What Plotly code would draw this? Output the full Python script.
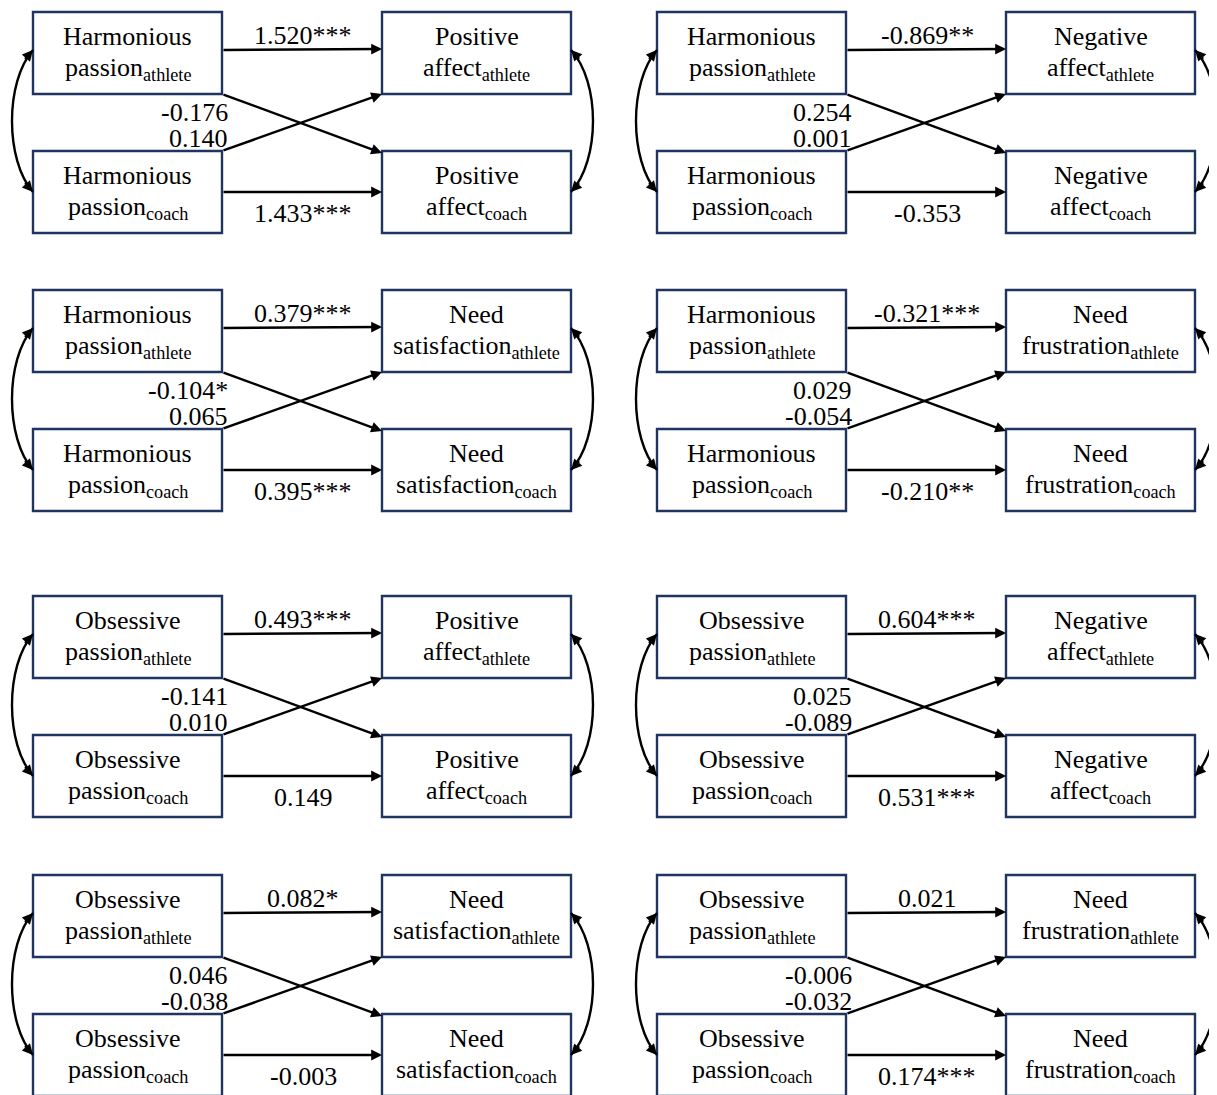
import plotly.graph_objects as go

# ---- data ----
predictors = ["Harmonious", "Harmonious", "Harmonious", "Harmonious",
              "Obsessive", "Obsessive", "Obsessive", "Obsessive"]
outcome_line1 = ["Positive", "Negative", "Need", "Need",
                 "Positive", "Negative", "Need", "Need"]
outcome_line2 = ["affect", "affect", "satisfaction", "frustration",
                 "affect", "affect", "satisfaction", "frustration"]
coef_athlete = ["1.520***", "-0.869**", "0.379***", "-0.321***",
                "0.493***", "0.604***", "0.082*", "0.021"]
coef_coach = ["1.433***", "-0.353", "0.395***", "-0.210**",
              "0.149", "0.531***", "-0.003", "0.174***"]
coef_cross_upper = ["-0.176", "0.254", "-0.104*", "0.029",
                    "-0.141", "0.025", "0.046", "-0.006"]
coef_cross_lower = ["0.140", "0.001", "0.065", "-0.054",
                    "0.010", "-0.089", "-0.038", "-0.032"]

# ---- layout geometry ----
col_x0 = [33, 657]
row_y0 = [12, 290, 596, 875]
BW, BH = 189, 82
DX = 349      # offset of outcome boxes
DY = 139      # offset of coach boxes
FONT = "Liberation Serif"
FS = 26
BORDER = "#1f3560"
LW = 2.4
PAGE_OFF = 8  # browser body margin

shapes = []
annotations = []


def txt(x, y, s, xanchor="center"):
    annotations.append(dict(x=x, y=y, xref="x", yref="y", text=s,
                            showarrow=False, xanchor=xanchor, yanchor="middle",
                            font=dict(family=FONT, size=FS, color="black")))


def arrow(x1, y1, x2, y2):
    annotations.append(dict(x=x2, y=y2, ax=x1, ay=y1, xref="x", yref="y",
                            axref="x", ayref="y", text="", showarrow=True,
                            arrowhead=2, arrowsize=0.9, arrowwidth=LW,
                            arrowcolor="black", standoff=0, startstandoff=0))


def curve(xe, yt, yb, xbulge):
    cx = (xbulge - 0.25 * xe) / 0.75
    c1y, c2y = yt + 32, yb - 32
    shapes.append(dict(type="path", xref="x", yref="y",
                       path=f"M {xe},{yt} C {cx},{c1y} {cx},{c2y} {xe},{yb}",
                       line=dict(color="black", width=LW)))
    # arrowheads along tangents
    tx, ty = cx - xe, c1y - yt
    n = (tx ** 2 + ty ** 2) ** 0.5
    arrow(xe + tx / n * 14, yt + ty / n * 14, xe, yt)
    tx, ty = cx - xe, c2y - yb
    n = (tx ** 2 + ty ** 2) ** 0.5
    arrow(xe + tx / n * 14, yb + ty / n * 14, xe, yb)


for i in range(8):
    x0 = col_x0[i % 2]
    y0 = row_y0[i // 2]
    boxes = [
        (x0, y0, predictors[i], "passion<sub>athlete</sub>"),
        (x0, y0 + DY, predictors[i], "passion<sub>coach</sub>"),
        (x0 + DX, y0, outcome_line1[i], outcome_line2[i] + "<sub>athlete</sub>"),
        (x0 + DX, y0 + DY, outcome_line1[i], outcome_line2[i] + "<sub>coach</sub>"),
    ]
    for bx, by, l1, l2 in boxes:
        shapes.append(dict(type="rect", xref="x", yref="y", x0=bx, x1=bx + BW,
                           y0=by, y1=by + BH,
                           line=dict(color=BORDER, width=LW), fillcolor="white",
                           layer="below"))
        txt(bx + BW / 2, by + 24, l1)
        txt(bx + BW / 2, by + 57, l2)

    xr = x0 + BW
    xl = x0 + DX
    # straight paths
    arrow(xr, y0 + 38, xl, y0 + 37)
    arrow(xr, y0 + DY + 41, xl, y0 + DY + 41)
    # cross paths
    arrow(xr, y0 + BH, xl, y0 + DY + 2)
    arrow(xr, y0 + DY, xl, y0 + BH)
    # coefficient labels
    txt(x0 + 270, y0 + 23, coef_athlete[i])
    txt(x0 + 270, y0 + DY + 62, coef_coach[i])
    txt(x0 + 197, y0 + 100, coef_cross_upper[i], xanchor="right")
    txt(x0 + 197, y0 + 126, coef_cross_lower[i], xanchor="right")
    # correlations
    curve(x0, y0 + 38, y0 + DY + 41, x0 - 21)
    curve(x0 + DX + BW, y0 + 38, y0 + DY + 41, x0 + DX + BW + 22)

W, H = 1217, 1095
fig = go.Figure()
fig.update_layout(
    width=W - PAGE_OFF, height=H - PAGE_OFF,
    margin=dict(l=0, r=0, t=0, b=0),
    paper_bgcolor="white", plot_bgcolor="white",
    xaxis=dict(range=[PAGE_OFF, W], visible=False, fixedrange=True),
    yaxis=dict(range=[H, PAGE_OFF], visible=False, fixedrange=True),
    shapes=shapes, annotations=annotations, showlegend=False,
)
fig.write_html("out.html")
